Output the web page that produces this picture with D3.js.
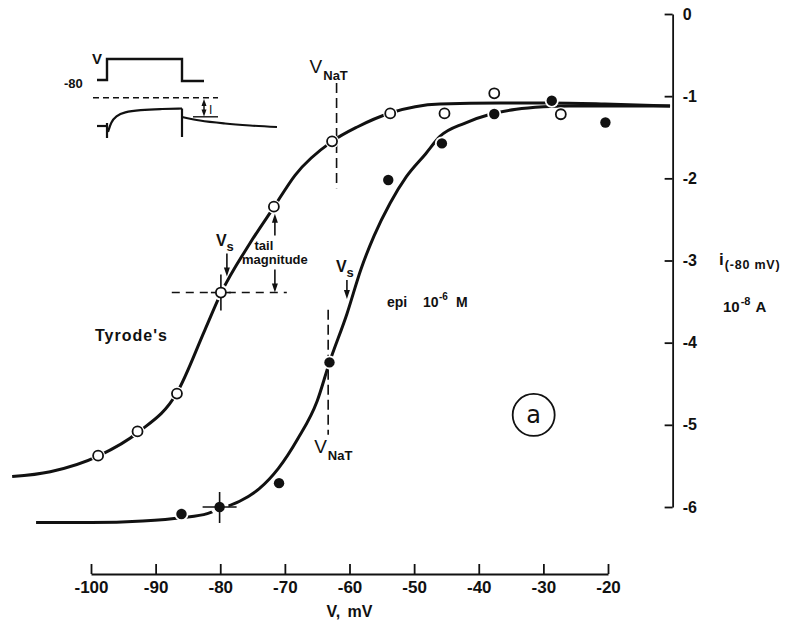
<!DOCTYPE html>
<html><head><meta charset="utf-8">
<script src="https://cdn.jsdelivr.net/npm/d3@7"></script>
<style>
body{margin:0;background:#fff;}
svg{display:block;}
</style></head><body>
<svg id="chart" width="788" height="623"></svg>
<script>
// ---------- data ----------
const xTicks = [-100, -90, -80, -70, -60, -50, -40, -30, -20];
const yTicks = [0, -1, -2, -3, -4, -5, -6];

// Tyrode's (open circles)
const tyrodeV = [-98.9, -92.8, -86.7, -79.9, -71.7, -62.7, -53.7, -45.3, -37.6, -27.3];
const tyrodeI = [-5.375, -5.08, -4.62, -3.39, -2.345, -1.55, -1.21, -1.21, -0.965, -1.22];
// epi 10^-6 M (filled circles)
const epiV = [-86.0, -80.1, -70.9, -63.1, -54.0, -45.7, -37.6, -28.7, -20.4];
const epiI = [-6.085, -6.0, -5.71, -4.24, -2.02, -1.575, -1.217, -1.055, -1.32];

// fitted curves
const tyrodeCurveV = [-112.2, -106.3, -98.9, -92.7, -86.7, -82.4, -79.9, -75.4, -71.7, -68.4, -62.7, -58.8, -53.7, -46.0, -36.7, -29.0, -20.5, -10.4];
const tyrodeCurveI = [-5.63, -5.57, -5.38, -5.09, -4.61, -3.85, -3.40, -2.79, -2.35, -1.96, -1.55, -1.375, -1.205, -1.095, -1.083, -1.083, -1.095, -1.12];
const epiCurveV = [-108.5, -100, -92, -86, -82, -80, -77, -74, -71, -68, -65, -63.1, -60.4, -58.2, -56.2, -53.7, -51.2, -48.2, -46, -42.2, -38.2, -34.2, -30, -26, -20.5, -10.4];
const epiCurveI = [-6.19, -6.19, -6.17, -6.13, -6.08, -6.02, -5.93, -5.78, -5.53, -5.17, -4.71, -4.24, -3.65, -3.1, -2.7, -2.30, -1.98, -1.70, -1.49, -1.33, -1.22, -1.16, -1.13, -1.12, -1.12, -1.12];

// marked points (index of the crosshair point) and annotation voltages
const tyrodeMarked = 3, epiMarked = 1;
const vnatTyrode = -62.0, vnatEpi = -63.3;
const vsEpi = -60.4;
const yAxisAt = -10;

// ---------- drawing ----------
const ink = "#111";
const FONT = "'Liberation Sans', Arial, sans-serif";
const svg = d3.select("#chart").attr("font-family", FONT).attr("font-weight", "bold");
const x = d3.scaleLinear().domain([-100, -20]).range([91, 608]);
const y = d3.scaleLinear().domain([0, -6]).range([14, 507]);

// x axis
const gx = svg.append("g").attr("transform", "translate(0,574)")
  .call(d3.axisBottom(x).tickValues(xTicks).tickSizeInner(-10).tickSizeOuter(0).tickPadding(7).tickFormat(d => String(d)));
gx.attr("font-family", FONT).attr("font-size", 17).attr("font-weight", "bold");
gx.select(".domain").attr("stroke", ink).attr("stroke-width", 1.8);
gx.selectAll(".tick line").attr("stroke", ink).attr("stroke-width", 1.8);
gx.selectAll(".tick text").attr("fill", ink);
svg.append("text").attr("x", x(-60)).attr("y", 617).attr("text-anchor", "middle")
  .attr("font-size", 16).attr("fill", ink).attr("word-spacing", 3).text("V, mV");

// y axis
const gy = svg.append("g").attr("transform", `translate(${x(yAxisAt)},0)`)
  .call(d3.axisRight(y).tickValues(yTicks).tickSizeInner(-8).tickSizeOuter(0).tickPadding(10).tickFormat(d => String(d)));
gy.attr("font-family", FONT).attr("font-size", 16).attr("font-weight", "bold");
gy.select(".domain").attr("stroke", ink).attr("stroke-width", 1.8);
gy.selectAll(".tick line").attr("stroke", ink).attr("stroke-width", 1.8);
gy.selectAll(".tick text").attr("fill", ink);

const yl = svg.append("text").attr("x", 719).attr("y", 265).attr("fill", ink);
yl.append("tspan").attr("font-size", 17).text("i");
yl.append("tspan").attr("font-size", 12.5).attr("dy", 4).attr("dx", 1).attr("letter-spacing", 0.8).text("(-80 mV)");
const yu = svg.append("text").attr("x", 723).attr("y", 312).attr("fill", ink);
yu.append("tspan").attr("font-size", 15).text("10");
yu.append("tspan").attr("font-size", 11).attr("dy", -7).attr("dx", 1).text("-8");
yu.append("tspan").attr("font-size", 15).attr("dy", 7).attr("dx", 5).text("A");

// curves
const line = d3.line().x(d => x(d[0])).y(d => y(d[1])).curve(d3.curveMonotoneX);
const tyrodeCurve = tyrodeCurveV.map((v, i) => [v, tyrodeCurveI[i]]);
const epiCurve = epiCurveV.map((v, i) => [v, epiCurveI[i]]);
svg.append("path").attr("d", line(tyrodeCurve)).attr("fill", "none").attr("stroke", ink).attr("stroke-width", 3);
svg.append("path").attr("d", line(epiCurve)).attr("fill", "none").attr("stroke", ink).attr("stroke-width", 3);

// dashed V_NaT lines
function dashV(xv, i1, i2) {
  svg.append("line").attr("x1", x(xv)).attr("x2", x(xv)).attr("y1", y(i1)).attr("y2", y(i2))
    .attr("stroke", ink).attr("stroke-width", 1.6).attr("stroke-dasharray", "10,5");
}
dashV(vnatTyrode, -0.84, -2.12);
dashV(vnatEpi, -3.6, -5.12);

// tyrode marked point: horizontal dashed line + crosshair
const tpx = x(tyrodeV[tyrodeMarked]), tpy = y(tyrodeI[tyrodeMarked]);
svg.append("line").attr("x1", x(-87.5)).attr("x2", x(-69.7)).attr("y1", tpy).attr("y2", tpy)
  .attr("stroke", ink).attr("stroke-width", 1.6).attr("stroke-dasharray", "8,6");
const epx = x(epiV[epiMarked]), epy = y(epiI[epiMarked]);

// halos
svg.append("g").selectAll("circle").data(tyrodeV).join("circle")
  .attr("cx", d => x(d)).attr("cy", (d, i) => y(tyrodeI[i])).attr("r", (d, i) => i === tyrodeMarked ? 8 : 7).attr("fill", "#fff");
svg.append("g").selectAll("circle").data(epiV).join("circle")
  .attr("cx", d => x(d)).attr("cy", (d, i) => y(epiI[i])).attr("r", (d, i) => i === epiMarked ? 9 : 7).attr("fill", "#fff");

// crosshairs
svg.append("line").attr("x1", tpx).attr("x2", tpx).attr("y1", tpy - 18).attr("y2", tpy + 18).attr("stroke", ink).attr("stroke-width", 1.6);
svg.append("line").attr("x1", tpx - 10).attr("x2", tpx + 10).attr("y1", tpy).attr("y2", tpy).attr("stroke", ink).attr("stroke-width", 1.6);
svg.append("line").attr("x1", epx).attr("x2", epx).attr("y1", epy - 15).attr("y2", epy + 16).attr("stroke", ink).attr("stroke-width", 1.6);
svg.append("line").attr("x1", epx - 17).attr("x2", epx + 17).attr("y1", epy).attr("y2", epy).attr("stroke", ink).attr("stroke-width", 1.6);

// points
svg.append("g").selectAll("circle").data(tyrodeV).join("circle")
  .attr("cx", d => x(d)).attr("cy", (d, i) => y(tyrodeI[i])).attr("r", 5)
  .attr("fill", "#fff").attr("stroke", ink).attr("stroke-width", 1.8);
svg.append("g").selectAll("circle").data(epiV).join("circle")
  .attr("cx", d => x(d)).attr("cy", (d, i) => y(epiI[i])).attr("r", 5.2).attr("fill", ink);

// arrows
function arrow(x0, y0, y1) {
  const dir = Math.sign(y1 - y0);
  svg.append("line").attr("x1", x0).attr("x2", x0).attr("y1", y0).attr("y2", y1 - dir * 6)
    .attr("stroke", ink).attr("stroke-width", 1.6);
  svg.append("path").attr("d", `M${x0},${y1} L${x0 - 3},${y1 - dir * 9} L${x0 + 3},${y1 - dir * 9} Z`).attr("fill", ink);
}
// Vs (Tyrode)
arrow(tpx + 6, tpy - 39, tpy - 16);
const vs1 = svg.append("text").attr("x", tpx - 5).attr("y", tpy - 47).attr("fill", ink);
vs1.append("tspan").attr("font-size", 16).text("V");
vs1.append("tspan").attr("font-size", 13).attr("dy", 5).text("s");
// tail magnitude
const tmx = x(tyrodeV[4]) + 1;
arrow(tmx, tpy - 57, y(tyrodeI[4]) + 7);
arrow(tmx, tpy - 23, tpy);
svg.append("text").attr("x", tmx - 11).attr("y", tpy - 43).attr("text-anchor", "middle").attr("font-size", 13).attr("fill", ink).text("tail");
svg.append("text").attr("x", tmx).attr("y", tpy - 29).attr("text-anchor", "middle").attr("font-size", 13).attr("fill", ink).text("magnitude");
// Vs (epi)
const vsx = x(vsEpi);
arrow(vsx, 280, 299);
const vs2 = svg.append("text").attr("x", vsx - 11).attr("y", 272).attr("fill", ink);
vs2.append("tspan").attr("font-size", 16).text("V");
vs2.append("tspan").attr("font-size", 13).attr("dy", 5).text("s");

// V_NaT labels
function vnatLabel(x0, yb) {
  const t = svg.append("text").attr("x", x0).attr("y", yb).attr("fill", ink).attr("font-weight", "normal");
  t.append("tspan").attr("font-size", 19).text("V");
  t.append("tspan").attr("font-size", 13).attr("font-weight", "bold").attr("dy", 7).attr("dx", 1).text("NaT");
}
vnatLabel(x(vnatTyrode) - 27, 73);
vnatLabel(x(vnatEpi) - 14, 453);

// series labels
svg.append("text").attr("x", 95).attr("y", 341).attr("font-size", 16).attr("letter-spacing", 1).attr("fill", ink).text("Tyrode's");
const ep = svg.append("text").attr("y", 307).attr("fill", ink).attr("font-size", 14);
ep.append("tspan").attr("x", 387).text("epi");
ep.append("tspan").attr("x", 423).text("10");
ep.append("tspan").attr("x", 439).attr("dy", -7).attr("font-size", 10).text("-6");
ep.append("tspan").attr("x", 456).attr("dy", 7).text("M");

// panel label (a)
svg.append("circle").attr("cx", x(-31.5)).attr("cy", y(-4.88)).attr("r", 21).attr("fill", "none").attr("stroke", ink).attr("stroke-width", 1.8);
svg.append("text").attr("x", x(-31.5)).attr("y", y(-4.88) + 8).attr("text-anchor", "middle").attr("font-size", 24)
  .attr("font-weight", "normal").attr("font-family", "'DejaVu Sans', sans-serif").attr("fill", ink).text("a");

// ---------- inset: voltage step and current trace ----------
const inset = svg.append("g");
const pl = d3.line();
const stepPath = [[97, 80], [107, 80], [107, 59], [182, 59], [182, 81], [204, 81]];
inset.append("path").attr("d", pl(stepPath)).attr("fill", "none").attr("stroke", ink).attr("stroke-width", 2.4);
inset.append("text").attr("x", 92).attr("y", 64).attr("font-size", 15).attr("fill", ink).text("V");
inset.append("text").attr("x", 64).attr("y", 88).attr("font-size", 13).attr("fill", ink).text("-80");
inset.append("line").attr("x1", 93).attr("x2", 218).attr("y1", 97.7).attr("y2", 97.7)
  .attr("stroke", ink).attr("stroke-width", 1.6).attr("stroke-dasharray", "6,4");
const traces = [
  [[97, 126], [107, 126]],
  [[107, 123], [107, 138]],
  [[182, 108.5], [182, 137]]
];
traces.forEach(t => inset.append("path").attr("d", pl(t)).attr("fill", "none").attr("stroke", ink).attr("stroke-width", 2.2));
const rise = [[108, 132], [111, 122], [116, 116], [124, 112], [140, 110], [160, 109], [182, 108.5]];
const tail = [[182, 117], [200, 120.5], [225, 123.5], [250, 125.5], [277, 127]];
const smooth = d3.line().curve(d3.curveMonotoneX);
inset.append("path").attr("d", d3.line().curve(d3.curveBasis)(rise)).attr("fill", "none").attr("stroke", ink).attr("stroke-width", 2.2);
inset.append("path").attr("d", smooth(tail)).attr("fill", "none").attr("stroke", ink).attr("stroke-width", 2.2);
// I double arrow
inset.append("line").attr("x1", 204).attr("x2", 204).attr("y1", 104).attr("y2", 112).attr("stroke", ink).attr("stroke-width", 1.5);
inset.append("path").attr("d", "M204,99 L201.5,106 L206.5,106 Z").attr("fill", ink);
inset.append("path").attr("d", "M204,116.5 L201.5,109.5 L206.5,109.5 Z").attr("fill", ink);
inset.append("line").attr("x1", 193).attr("x2", 218).attr("y1", 116.8).attr("y2", 116.8).attr("stroke", ink).attr("stroke-width", 1.4);
inset.append("text").attr("x", 209).attr("y", 114).attr("font-size", 12).attr("font-weight", "normal").attr("fill", ink).text("I");
</script>
</body></html>
